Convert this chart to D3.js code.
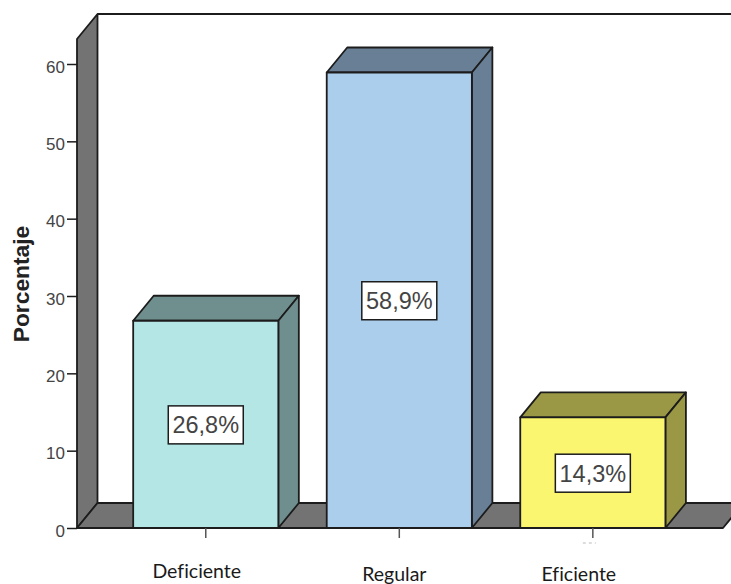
<!DOCTYPE html>
<html>
<head>
<meta charset="utf-8">
<script src="https://cdn.jsdelivr.net/npm/d3@7"></script>
<style>
  html, body { margin: 0; padding: 0; background: #fff; }
</style>
</head>
<body>
<svg id="chart" width="731" height="584"></svg>
<script>
const categories = ["Deficiente", "Regular", "Eficiente"];
const percentages = [26.8, 58.9, 14.3];
const valueLabels = ["26,8%", "58,9%", "14,3%"];
const yTicks = [0, 10, 20, 30, 40, 50, 60];
const frontColors = ["#b5e6e6", "#acceed", "#fbf66f"];
const shadeColors = ["#6f8e8e", "#687f95", "#9a9845"];

const width = 731, height = 584;
const depthX = 20.5, depthY = -25; // 3d offset of the back wall
const axisX = 77, floorRight = 723;
const lineColor = "#1c1c1c", wallColor = "#737373", textColor = "#444";

const svg = d3.select("#chart");

const y = d3.scaleLinear().domain([0, 60]).range([528, 64]);
const yTop = 39; // front top edge of the left wall
const x = d3.scaleBand()
  .domain(categories)
  .range([109, 689.6])
  .paddingInner(0.25)
  .paddingOuter(0.125);

const poly = (pts) => d3.line()(pts) + "Z";

const walls = svg.append("g").attr("stroke", lineColor).attr("stroke-width", 1.8).attr("stroke-linejoin", "round");

// left wall
walls.append("path")
  .attr("fill", wallColor)
  .attr("d", poly([[axisX, y(0)], [axisX, yTop], [axisX + depthX, yTop + depthY], [axisX + depthX, y(0) + depthY]]));

// floor, runs past the right edge of the picture
walls.append("path")
  .attr("fill", wallColor)
  .attr("d", poly([[axisX, y(0)], [floorRight, y(0)], [floorRight + depthX, y(0) + depthY], [axisX + depthX, y(0) + depthY]]));

// top edge of back wall
walls.append("line")
  .attr("x1", axisX + depthX).attr("x2", width)
  .attr("y1", yTop + depthY).attr("y2", yTop + depthY);

// bars
const bars = svg.append("g").attr("stroke", lineColor).attr("stroke-width", 1.8).attr("stroke-linejoin", "round")
  .selectAll("g")
  .data(categories)
  .join("g");

bars.append("path")
  .attr("fill", (d, i) => shadeColors[i])
  .attr("d", (d, i) => {
    const x0 = x(d), x1 = x0 + x.bandwidth(), t = y(percentages[i]);
    return poly([[x0, t], [x0 + depthX, t + depthY], [x1 + depthX, t + depthY], [x1, t]]);
  });

bars.append("path")
  .attr("fill", (d, i) => shadeColors[i])
  .attr("d", (d, i) => {
    const x1 = x(d) + x.bandwidth(), t = y(percentages[i]);
    return poly([[x1, t], [x1 + depthX, t + depthY], [x1 + depthX, y(0) + depthY], [x1, y(0)]]);
  });

bars.append("rect")
  .attr("fill", (d, i) => frontColors[i])
  .attr("x", (d) => x(d))
  .attr("y", (d, i) => y(percentages[i]))
  .attr("width", x.bandwidth())
  .attr("height", (d, i) => y(0) - y(percentages[i]));

// value boxes
const boxes = svg.append("g")
  .selectAll("g")
  .data(categories)
  .join("g")
  .attr("transform", (d, i) => `translate(${x(d) + x.bandwidth() / 2},${(y(percentages[i]) + y(0)) / 2})`);

boxes.append("rect")
  .attr("x", -37.5).attr("y", -18.5)
  .attr("width", 75).attr("height", 38)
  .attr("fill", "#fff")
  .attr("stroke", lineColor)
  .attr("stroke-width", 1.5);

boxes.append("text")
  .attr("text-anchor", "middle")
  .attr("y", 9)
  .attr("font-family", "'Liberation Sans', Arial, sans-serif")
  .attr("font-size", 23.5)
  .attr("fill", textColor)
  .text((d, i) => valueLabels[i]);

// y axis
const yAxis = svg.append("g")
  .attr("transform", `translate(${axisX},0)`)
  .call(d3.axisLeft(y).tickValues(yTicks).tickSize(10).tickPadding(2));
yAxis.select(".domain").remove();
yAxis.selectAll("line").attr("stroke", lineColor).attr("stroke-width", 1.5);
yAxis.selectAll("text")
  .attr("dy", "0.48em")
  .attr("font-family", "'Liberation Sans', Arial, sans-serif")
  .attr("font-size", 17)
  .attr("fill", textColor);

// y title
svg.append("text")
  .attr("transform", "translate(29,284) rotate(-90)")
  .attr("text-anchor", "middle")
  .attr("font-family", "'Liberation Sans', Arial, sans-serif")
  .attr("font-weight", "bold")
  .attr("font-size", 22.8)
  .attr("fill", "#222")
  .text("Porcentaje");

// x ticks
svg.append("g")
  .selectAll("line")
  .data(categories)
  .join("line")
  .attr("x1", (d) => x(d) + x.bandwidth() / 2)
  .attr("x2", (d) => x(d) + x.bandwidth() / 2)
  .attr("y1", y(0))
  .attr("y2", y(0) + 10)
  .attr("stroke", "#555")
  .attr("stroke-width", 1.5);

// leftover specks under the last tick, from the label that was pasted over
svg.append("line")
  .attr("x1", x("Eficiente") + x.bandwidth() / 2 - 10)
  .attr("x2", x("Eficiente") + x.bandwidth() / 2 + 3)
  .attr("y1", y(0) + 15)
  .attr("y2", y(0) + 15)
  .attr("stroke", "#bbb")
  .attr("stroke-dasharray", "3 3");

// x labels, pasted by hand in the original so they don't line up
const labelShift = [-9, -5, -14];
const labelDrop = [0, 3, 3];
svg.append("g")
  .selectAll("text")
  .data(categories)
  .join("text")
  .attr("x", (d, i) => x(d) + x.bandwidth() / 2 + labelShift[i])
  .attr("y", (d, i) => 578 + labelDrop[i])
  .attr("text-anchor", "middle")
  .attr("font-family", "Lato, 'Open Sans', sans-serif")
  .attr("font-size", 19.5)
  .style("font-variant-ligatures", "none")
  .attr("fill", "#1a1a1a")
  .text((d) => d);
</script>
</body>
</html>
